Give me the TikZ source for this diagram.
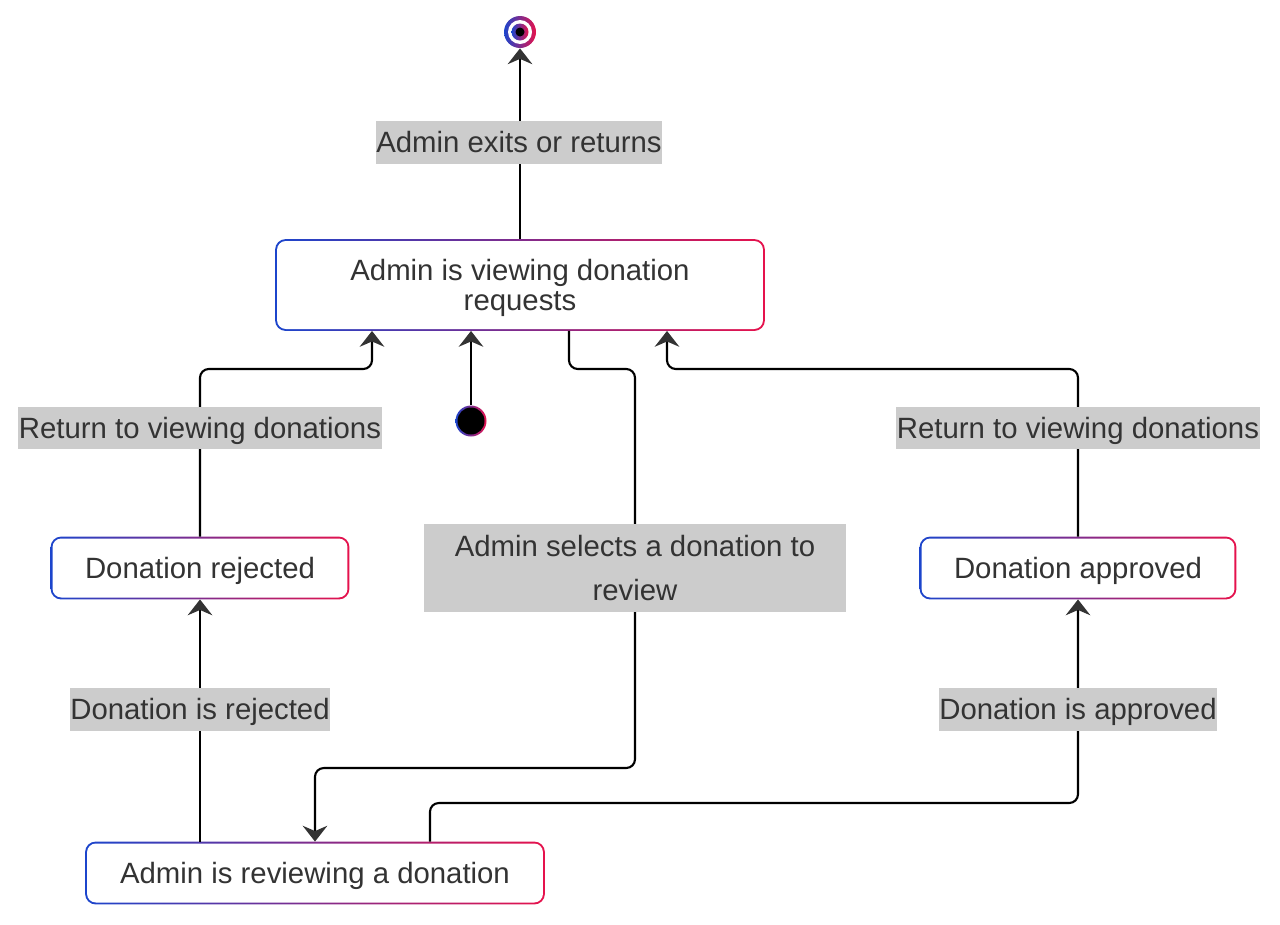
\documentclass[tikz,border=0pt]{standalone}
\usepackage{fontspec}
\setmainfont{Liberation Sans}
\usetikzlibrary{arrows.meta,backgrounds}
\definecolor{nblue}{HTML}{1C45CC}
\definecolor{nred}{HTML}{E6124C}
\definecolor{lblgray}{HTML}{CCCCCC}
\definecolor{ink}{HTML}{333333}

\tikzset{
  state/.style={rectangle, rounded corners=5pt, fill=white, text=ink, inner sep=0pt,
    outer sep=1.1pt, align=center, text depth=0pt, font=\fontsize{16.7}{17}\selectfont},
  lbl/.style={rectangle, fill=lblgray, text=ink, inner sep=0pt, align=center,
    text depth=0pt, font=\fontsize{16.7}{25}\selectfont},
  flow/.style={draw=black, line width=1.2pt, rounded corners=5pt,
    -{Stealth[length=9pt,width=14pt,inset=3pt,color=ink]}}
}

\begin{document}
\begin{tikzpicture}[x=0.02cm,y=-0.02cm]
    \useasboundingbox(0,0)rectangle(1280,924);
    % states
    \node[state, minimum width=9.72cm, minimum height=1.76cm](view)at(520,285){Admin is viewing donation\\requests};
    \node[state, minimum width=5.9cm, minimum height=1.18cm](rejected)at(200,568){Donation rejected};
    \node[state, minimum width=6.26cm, minimum height=1.18cm](approved)at(1078,568){Donation approved};
    \node[state, minimum width=9.12cm, minimum height=1.18cm](review)at(315,873){Admin is reviewing a donation};
    \node[circle, inner sep=0pt, minimum size=0.62cm, left color=nblue, right color=nred](start)at(471,421){};
    \fill[black](start)circle(0.27cm);
    \node[circle, inner sep=0pt, minimum size=0.64cm, left color=nblue, right color=nred](finish)at(520,32){};
    \fill[white](finish)circle(0.24cm);
    \shade[left color=nblue, right color=nred](finish)circle(0.17cm);
    \fill[black](finish)circle(0.09cm);
    \begin{scope}[on background layer]
      \foreach \n in {view,rejected,approved,review}
        \shade[left color=nblue, right color=nred, rounded corners=6pt](\n.south west)rectangle(\n.north east);
    \end{scope}
    % transitions
    \draw[flow](view.north)--(finish.south);
    \draw[flow](start.north)--(start.north |- view.south);
    \draw[flow](rejected.north)--(200,369)--(372,369)--(372,0 |- view.south);
    \draw[flow](569,0 |- view.south)--(569,369)--(635,369)--(635,768)--(315,768)--(review.north);
    \draw[flow](200,0 |- review.north)--(rejected.south);
    \draw[flow](430,0 |- review.north)--(430,803)-|(approved.south);
    \draw[flow](approved.north)--(1078,369)--(667,369)--(667,0 |- view.south);
    % labels
    \node[lbl, minimum width=5.74cm, minimum height=0.86cm](lblexit)at(519,142){Admin exits or returns};
    \node[lbl, minimum width=7.3cm, minimum height=0.84cm](lblretl)at(200,428){Return to viewing donations};
    \node[lbl, minimum width=7.28cm, minimum height=0.84cm](lblretr)at(1078,428){Return to viewing donations};
    \node[lbl, minimum width=8.44cm, minimum height=1.76cm](lblsel)at(635,568){Admin selects a donation to\\review};
    \node[lbl, minimum width=5.22cm, minimum height=0.86cm](lblrej)at(200,709){Donation is rejected};
    \node[lbl, minimum width=5.58cm, minimum height=0.86cm](lblapp)at(1078,709){Donation is approved};
\end{tikzpicture}
\end{document}
